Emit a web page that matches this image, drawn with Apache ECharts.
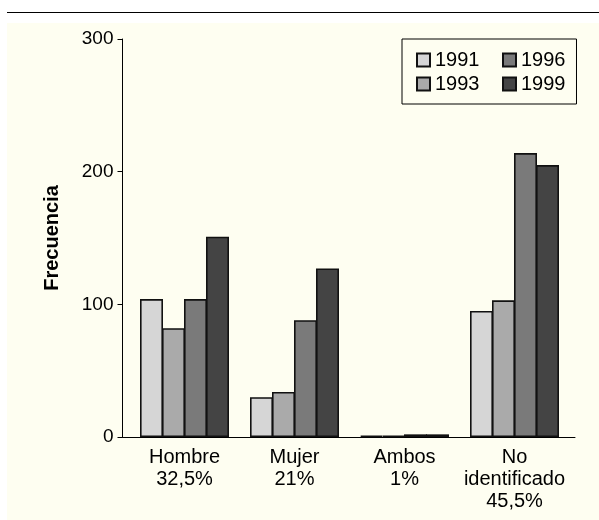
<!DOCTYPE html>
<html>
<head>
<meta charset="utf-8">
<script src="https://cdn.jsdelivr.net/npm/echarts@6/dist/echarts.min.js"></script>
<style>
  html, body { margin: 0; padding: 0; background: #ffffff; }
  #chart { width: 599px; height: 520px; }
</style>
</head>
<body>
<div id="chart"></div>
<script>
// ---- data ----
const categories = ['Hombre', 'Mujer', 'Ambos', 'No\nidentificado'];
const shares = ['32,5%', '21%', '1%', '45,5%'];
const years = ['1991', '1993', '1996', '1999'];
const values1991 = [104, 30, 1, 95];
const values1993 = [82, 34, 1, 103];
const values1996 = [104, 88, 2, 214];
const values1999 = [151, 127, 2, 205];
const yTicks = [0, 100, 200, 300];

const seriesValues = [values1991, values1993, values1996, values1999];
const colors = ['#d6d6d6', '#aaaaaa', '#7a7a7a', '#444444'];
const FONT = '"Liberation Sans", Arial, Helvetica, sans-serif';

const chart = echarts.init(document.getElementById('chart'), null, { renderer: 'canvas' });

const series = years.map((y, i) => ({
  name: y,
  type: 'bar',
  xAxisIndex: 0,
  yAxisIndex: 0,
  data: seriesValues[i],
  barWidth: 23,
  barGap: '-4.35%',
  itemStyle: { color: colors[i], borderColor: '#111111', borderWidth: 1.6 },
  emphasis: { disabled: true },
  animation: false
}));

const legendCommon = {
  orient: 'vertical',
  icon: 'rect',
  itemWidth: 13,
  itemHeight: 13,
  itemGap: 4,
  itemTextGap: 4,
  selectedMode: false,
  textStyle: { fontFamily: FONT, fontSize: 20, color: '#000' }
};

const option = {
  backgroundColor: '#ffffff',
  animation: false,
  graphic: [
    { type: 'rect', shape: { x: 7, y: 23, width: 592, height: 497 }, style: { fill: '#fefef1' }, z: -10, silent: true },
    { type: 'line', shape: { x1: 7, y1: 12.5, x2: 599, y2: 12.5 }, style: { stroke: '#000', lineWidth: 1 }, silent: true }
  ],
  legend: [
    Object.assign({}, legendCommon, {
      data: [years[0], years[1]],
      left: 402, top: 39,
      padding: [11, 97, 10, 14],
      borderColor: '#000', borderWidth: 1
    }),
    Object.assign({}, legendCommon, {
      data: [years[2], years[3]],
      left: 502, top: 39,
      padding: [11, 0, 10, 0]
    })
  ],
  grid: [
    { left: 129.5, right: 29.5, top: 39, bottom: 83 },
    { left: 122.5, right: 24, top: 39, bottom: 83 }
  ],
  xAxis: [
    {
      type: 'category',
      gridIndex: 0,
      data: categories.map((c, i) => c + '\n' + shares[i]),
      axisLine: { show: false },
      axisTick: { show: false },
      axisLabel: { fontFamily: FONT, fontSize: 20, color: '#000', margin: 9, lineHeight: 22, interval: 0 }
    },
    {
      type: 'value',
      gridIndex: 1,
      min: 0, max: 1,
      axisLine: { show: true, lineStyle: { color: '#000', width: 1 } },
      axisTick: { show: false },
      axisLabel: { show: false },
      splitLine: { show: false }
    }
  ],
  yAxis: [
    {
      type: 'value',
      gridIndex: 0,
      min: yTicks[0], max: yTicks[yTicks.length - 1], interval: 100,
      offset: 7,
      name: 'Frecuencia',
      nameLocation: 'middle',
      nameGap: 60,
      nameTextStyle: { fontFamily: FONT, fontSize: 20, fontWeight: 'bold', color: '#000' },
      axisLine: { show: true, lineStyle: { color: '#000', width: 1 } },
      axisTick: { show: true, length: 5, lineStyle: { color: '#000', width: 1 } },
      axisLabel: { fontFamily: FONT, fontSize: 19, color: '#000', margin: 9 },
      splitLine: { show: false }
    },
    {
      type: 'value',
      gridIndex: 1,
      show: false,
      min: 0, max: 1
    }
  ],
  series: series
};

chart.setOption(option);
</script>
</body>
</html>
